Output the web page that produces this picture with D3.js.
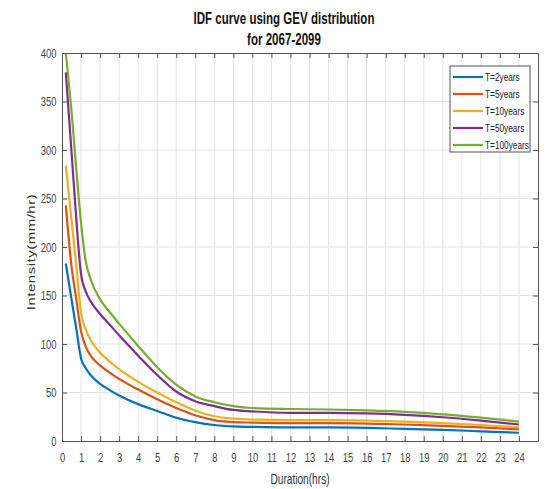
<!DOCTYPE html>
<html>
<head>
<meta charset="utf-8">
<script src="https://cdn.jsdelivr.net/npm/d3@7/dist/d3.min.js"></script>
<style>
  html, body { margin: 0; padding: 0; background: #fff; }
  svg { display: block; font-family: "Liberation Sans", Arial, sans-serif; }
</style>
</head>
<body>
<svg id="chart"></svg>
<script>
// IDF curves (GEV) for 2067-2099, five return periods.

const durations = [0.2, 0.5, 0.75, 1, 1.25, 1.5, 2, 2.5, 3, 4, 5, 6, 7, 8, 9, 10, 12, 14, 16, 18, 20, 22, 24];

const t2   = [183, 146, 116, 85, 75, 68, 59, 52.5, 47, 38, 31, 24, 19.5, 16.5, 15, 14.5, 14, 14, 13.5, 12.5, 11.5, 10, 8.5];
const t5   = [243, 180, 146, 113, 97, 88, 78, 70.5, 64, 53, 43, 34, 26.5, 21.5, 19.5, 19, 18.5, 18.5, 18, 17, 15.5, 14, 12];
const t10  = [284, 228, 181, 132, 115, 104, 91, 82, 74, 61, 50, 40, 31.5, 25.5, 23, 22, 21.5, 21.5, 21, 20, 18.5, 16.5, 14];
const t50  = [380, 298, 229, 172, 154, 144, 131, 120, 109, 88, 68, 51, 41, 36, 32, 30.5, 29, 29, 28.5, 27, 24.5, 21, 17];
const t100 = [400, 340, 280, 225, 185, 167, 146, 133, 121, 98, 76, 58, 46, 40, 36, 34, 33, 32.5, 31.5, 30, 27.5, 24, 20];

const seriesNames = ["T=2years", "T=5years", "T=10years", "T=50years", "T=100years"];
const seriesValues = [t2, t5, t10, t50, t100];
const colors = ["#0072BD", "#D95319", "#EDB120", "#7E2F8E", "#77AC30"];

const xTicks = d3.range(0, 25);
const yTicks = [0, 50, 100, 150, 200, 250, 300, 350, 400];

const W = 551, H = 489;
const P = { left: 62, right: 538, top: 53, bottom: 441 };
const SX = 0.7; // the figure's text is squeezed horizontally

const svg = d3.select("#chart").attr("width", W).attr("height", H);

const x = d3.scaleLinear().domain([0, 25]).range([P.left, P.right]);
const y = d3.scaleLinear().domain([0, 400]).range([P.bottom, P.top]);

// grid
const grid = svg.append("g").attr("stroke", "#e3e3e3").attr("stroke-width", 1);
xTicks.slice(1).forEach(t => {
  grid.append("line").attr("x1", x(t)).attr("x2", x(t)).attr("y1", P.top).attr("y2", P.bottom);
});
yTicks.slice(1, -1).forEach(t => {
  grid.append("line").attr("x1", P.left).attr("x2", P.right).attr("y1", y(t)).attr("y2", y(t));
});

// lines
const line = d3.line().x(d => x(d[0])).y(d => y(d[1])).curve(d3.curveMonotoneX);
seriesValues.forEach((vals, i) => {
  svg.append("path")
    .datum(durations.map((d, j) => [d, vals[j]]))
    .attr("fill", "none")
    .attr("stroke", colors[i])
    .attr("stroke-width", 2.2)
    .attr("stroke-linejoin", "round")
    .attr("d", line);
});

// axes (box with inward ticks on all four sides)
const axisColor = "#555";
function styleAxis(g) {
  g.select(".domain").attr("stroke", axisColor);
  g.selectAll(".tick line").attr("stroke", axisColor);
  g.selectAll("text").attr("font-size", 13.5).attr("fill", "#444")
    .attr("font-family", "Liberation Sans, Arial, sans-serif")
    .attr("transform", `scale(${SX},1)`);
}

svg.append("g").attr("transform", `translate(0,${P.bottom})`)
  .call(d3.axisBottom(x).tickValues(xTicks).tickSizeInner(-5).tickSizeOuter(0).tickPadding(11))
  .call(styleAxis);

svg.append("g").attr("transform", `translate(${P.left},0)`)
  .call(d3.axisLeft(y).tickValues(yTicks).tickSizeInner(-5).tickSizeOuter(0).tickPadding(8))
  .call(styleAxis);

svg.append("g").attr("transform", `translate(0,${P.top})`)
  .call(d3.axisTop(x).tickValues(xTicks).tickSizeInner(-5).tickSizeOuter(0).tickFormat(""))
  .call(styleAxis);

svg.append("g").attr("transform", `translate(${P.right},0)`)
  .call(d3.axisRight(y).tickValues(yTicks).tickSizeInner(-5).tickSizeOuter(0).tickFormat(""))
  .call(styleAxis);

// titles
function squeezedText(cx, cy, str, size, weight, fill) {
  return svg.append("text")
    .attr("transform", `translate(${cx},${cy}) scale(${SX},1)`)
    .attr("text-anchor", "middle")
    .attr("font-size", size).attr("font-weight", weight).attr("fill", fill)
    .text(str);
}
squeezedText(284, 24, "IDF curve using GEV distribution", 16.5, "bold", "#111");
squeezedText(284, 45, "for 2067-2099", 16.5, "bold", "#111");
squeezedText(300, 484, "Duration(hrs)", 14.5, "normal", "#333");

svg.append("text")
  .attr("transform", `translate(35,252) scale(${SX},1) rotate(-90)`)
  .attr("text-anchor", "middle")
  .attr("font-size", 15).attr("letter-spacing", 0.5).attr("fill", "#333")
  .text("Intensity(mm/hr)");

// legend
const lg = svg.append("g");
lg.append("rect").attr("x", 450).attr("y", 66).attr("width", 80).attr("height", 86)
  .attr("fill", "#fff").attr("stroke", "#555").attr("stroke-width", 1);
seriesNames.forEach((name, i) => {
  const ly = 77 + i * 17;
  lg.append("line").attr("x1", 453).attr("x2", 483).attr("y1", ly).attr("y2", ly)
    .attr("stroke", colors[i]).attr("stroke-width", 2.2);
  lg.append("text")
    .attr("transform", `translate(485,${ly}) scale(0.72,1)`)
    .attr("dy", "0.35em")
    .attr("font-size", 11.5).attr("fill", "#222")
    .text(name);
});
</script>
</body>
</html>
